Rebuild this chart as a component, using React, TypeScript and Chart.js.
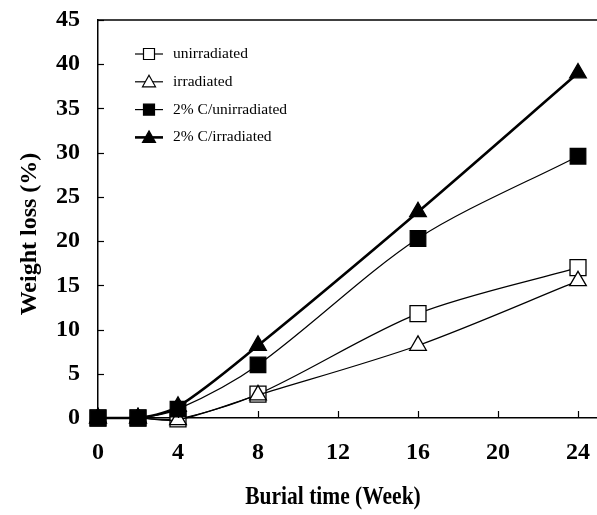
import React, { useEffect, useRef } from "react";
import { Chart, registerables } from "chart.js";

Chart.register(...registerables);

const weeks = [0, 2, 4, 8, 16, 24];
const unirradiated = [0, 0, -0.1, 2.7, 11.8, 17.0];
const irradiated = [0, 0, -0.2, 2.6, 8.2, 15.5];
const cUnirradiated = [0, 0, 1.0, 6.0, 20.3, 29.6];
const cIrradiated = [0, 0, 1.3, 8.2, 23.3, 39.0];
const seriesNames = ["unirradiated", "irradiated", "2% C/unirradiated", "2% C/irradiated"];
const xTicks = [0, 4, 8, 12, 16, 20, 24];
const yTicks = [0, 5, 10, 15, 20, 25, 30, 35, 40, 45];
const xTitle = "Burial time (Week)";
const yTitle = "Weight loss (%)";

const SERIF = "'Liberation Serif', 'Times New Roman', serif";

function pts(ys: number[]) {
  return weeks.map((x, i) => ({ x, y: ys[i] }));
}

const legendStyles = [
  { shape: "rect", fill: "#ffffff", lw: 1.2 },
  { shape: "triangle", fill: "#ffffff", lw: 1.2 },
  { shape: "rect", fill: "#000000", lw: 1.2 },
  { shape: "triangle", fill: "#000000", lw: 2.6 },
];

const framePlugin = {
  id: "frame",
  afterDraw(chart: any) {
    const { ctx, chartArea } = chart;
    const xs = chart.scales.x;
    const ys = chart.scales.y;
    ctx.save();
    ctx.strokeStyle = "#000";
    ctx.lineWidth = 1.5;
    // top border
    ctx.beginPath();
    ctx.moveTo(chartArea.left, chartArea.top);
    ctx.lineTo(chartArea.right, chartArea.top);
    ctx.stroke();
    ctx.lineWidth = 1.2;
    // inward y ticks
    yTicks.forEach((v) => {
      const py = Math.round(ys.getPixelForValue(v)) + 0.5;
      ctx.beginPath();
      ctx.moveTo(chartArea.left, py);
      ctx.lineTo(chartArea.left + 6, py);
      ctx.stroke();
    });
    // inward x ticks
    xTicks.forEach((v) => {
      if (v === 0) return;
      const px = Math.round(xs.getPixelForValue(v)) + 0.5;
      ctx.beginPath();
      ctx.moveTo(px, chartArea.bottom);
      ctx.lineTo(px, chartArea.bottom - 7);
      ctx.stroke();
    });
    ctx.fillStyle = "#000";
    // y axis title
    ctx.save();
    ctx.translate(30, (chartArea.top + chartArea.bottom) / 2 + 15);
    ctx.rotate(-Math.PI / 2);
    ctx.font = "bold 24px " + SERIF;
    ctx.textAlign = "center";
    ctx.textBaseline = "middle";
    ctx.fillText(yTitle, 0, 0);
    ctx.restore();
    // x axis title (slightly condensed like the original)
    ctx.save();
    const xMid = (xs.getPixelForValue(xTicks[0]) + xs.getPixelForValue(xTicks[xTicks.length - 1])) / 2 - 5;
    ctx.translate(xMid, chartArea.bottom + 86);
    ctx.scale(0.86, 1);
    ctx.font = "bold 25px " + SERIF;
    ctx.textAlign = "center";
    ctx.textBaseline = "alphabetic";
    ctx.fillText(xTitle, 0, 0);
    ctx.restore();
    // legend
    const lx0 = chartArea.left + 37;
    const lx1 = chartArea.left + 65;
    const mx = chartArea.left + 51;
    const tx = chartArea.left + 75;
    ctx.font = "15.5px " + SERIF;
    ctx.textBaseline = "middle";
    ctx.textAlign = "left";
    seriesNames.forEach((name, i) => {
      const st = legendStyles[i];
      const y = chartArea.top + 34 + i * 27.8;
      ctx.strokeStyle = "#000";
      ctx.lineWidth = st.lw;
      ctx.beginPath();
      ctx.moveTo(lx0, y);
      ctx.lineTo(lx1, y);
      ctx.stroke();
      ctx.lineWidth = 1.2;
      ctx.fillStyle = st.fill;
      ctx.beginPath();
      if (st.shape === "rect") {
        ctx.rect(mx - 5.5, y - 5.5, 11, 11);
      } else {
        ctx.moveTo(mx, y - 6.5);
        ctx.lineTo(mx + 6.5, y + 5);
        ctx.lineTo(mx - 6.5, y + 5);
        ctx.closePath();
      }
      ctx.fill();
      ctx.stroke();
      ctx.fillStyle = "#000";
      ctx.fillText(name, tx, y);
    });
    ctx.restore();
  },
};

export default function App() {
  const ref = useRef<HTMLCanvasElement | null>(null);
  useEffect(() => {
    document.body.style.margin = "0";
    const canvas = ref.current;
    if (!canvas) return;
    const mk = (label: string, ys: number[], shape: string, r: number, fill: string, lw: number, order: number) => ({
      label,
      data: pts(ys),
      borderColor: "#000",
      borderWidth: lw,
      pointStyle: shape,
      pointRadius: r,
      pointBackgroundColor: fill,
      pointBorderColor: "#000",
      pointBorderWidth: 1.3,
      tension: 0.3,
      order,
      clip: false,
    });
    const chart = new Chart(canvas, {
      type: "line",
      data: {
        datasets: [
          mk(seriesNames[0], unirradiated, "rect", 11.3, "#fff", 1.2, 3),
          mk(seriesNames[1], irradiated, "triangle", 9.6, "#fff", 1.2, 2),
          mk(seriesNames[2], cUnirradiated, "rect", 11, "#000", 1.2, 0),
          mk(seriesNames[3], cIrradiated, "triangle", 9.6, "#000", 2.6, 1),
        ],
      },
      options: {
        responsive: false,
        animation: false,
        layout: { autoPadding: false, padding: { top: 20, left: 0, right: 0, bottom: 0 } },
        plugins: {
          legend: { display: false },
          tooltip: { enabled: false },
        },
        scales: {
          x: {
            type: "linear",
            min: 0,
            max: 24.95,
            afterBuildTicks: (scale: any) => {
              scale.ticks = xTicks.map((v) => ({ value: v }));
            },
            afterFit: (scale: any) => {
              scale.height = 97;
              scale.paddingLeft = 0;
              scale.paddingRight = 0;
            },
            grid: {
              display: true,
              drawOnChartArea: false,
              drawTicks: true,
              tickLength: 20,
              tickColor: "rgba(0,0,0,0)",
              color: "#000",
            },
            border: { display: true, color: "#000", width: 1.5 },
            ticks: {
              padding: 0,
              color: "#000",
              maxRotation: 0,
              autoSkip: false,
              font: { family: SERIF, size: 24, weight: "bold" },
            },
            title: { display: false },
          },
          y: {
            type: "linear",
            min: 0,
            max: 45,
            afterBuildTicks: (scale: any) => {
              scale.ticks = yTicks.map((v) => ({ value: v }));
            },
            afterFit: (scale: any) => {
              scale.width = 98;
              scale.paddingTop = 0;
              scale.paddingBottom = 0;
            },
            grid: { display: true, drawOnChartArea: false, drawTicks: false, color: "#000" },
            border: { display: true, color: "#000", width: 1.5 },
            ticks: {
              padding: 18,
              color: "#000",
              autoSkip: false,
              font: { family: SERIF, size: 24, weight: "bold" },
            },
            title: { display: false },
          },
        },
      },
      plugins: [framePlugin],
    } as any);
    return () => chart.destroy();
  }, []);
  return (
    <div style={{ width: 597, height: 515, background: "#fff" }}>
      <canvas ref={ref} width={597} height={515} style={{ display: "block" }} />
    </div>
  );
}
